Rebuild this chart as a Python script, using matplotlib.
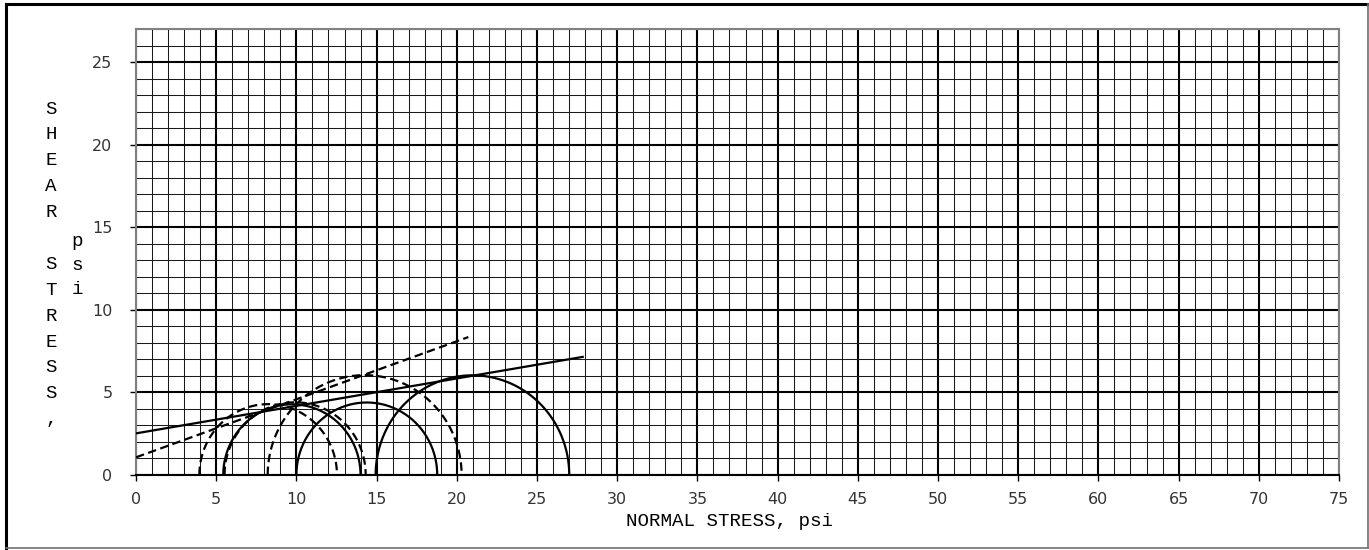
#!/usr/bin/env python3
"""Mohr circles and failure envelopes on a grid sheet (total vs effective stress)."""

import matplotlib

matplotlib.use("Agg")
import matplotlib.pyplot as plt
import numpy as np
from matplotlib.lines import Line2D


OUT = "out.png"

# Principal stresses at failure, psi
SIGMA3_TOTAL = [5.44, 10.0, 14.94]
SIGMA1_TOTAL = [14.0, 18.78, 27.01]
SIGMA3_EFFECTIVE = [3.95, 5.52, 8.21]
SIGMA1_EFFECTIVE = [12.53, 14.32, 20.3]

# Failure envelopes, end points (normal stress, shear stress)
ENVELOPE_TOTAL_X = [0.0, 27.85]
ENVELOPE_TOTAL_Y = [2.52, 7.15]
ENVELOPE_EFFECTIVE_X = [0.0, 20.72]
ENVELOPE_EFFECTIVE_Y = [1.07, 8.35]

X_TICKS = list(range(0, 80, 5))
Y_TICKS = list(range(0, 30, 5))
X_MAX = 75
Y_MAX = 27

Y_LABEL = "SHEAR STRESS,"
Y_UNIT = "psi"
X_LABEL = "NORMAL STRESS, psi"

MONO = "Liberation Mono"
DASH = (0, (3.8, 2.0))


def semicircle(s3: float, s1: float) -> tuple[np.ndarray, np.ndarray]:
    center = (s1 + s3) / 2
    radius = (s1 - s3) / 2
    theta = np.linspace(np.pi, 0, 200)
    return center + radius * np.cos(theta), radius * np.sin(theta)


def draw_grid(ax) -> None:
    for x in range(0, X_MAX + 1):
        major = x % 5 == 0
        ax.axvline(x, color="black" if major else "#1a1a1a",
                   linewidth=1.5 if major else 0.75, zorder=1)
    for y in range(0, Y_MAX + 1):
        major = y % 5 == 0
        ax.axhline(y, color="black" if major else "#1a1a1a",
                   linewidth=1.5 if major else 0.75, zorder=1)


def main() -> int:
    fig = plt.figure(figsize=(13.69, 5.5), dpi=100)
    ax = fig.add_axes([136 / 1369, 1 - 475 / 550, 1203 / 1369, 446 / 550])

    draw_grid(ax)

    for s3, s1 in zip(SIGMA3_TOTAL, SIGMA1_TOTAL):
        x, y = semicircle(s3, s1)
        ax.plot(x, y, color="black", linewidth=1.6, zorder=3)
    for s3, s1 in zip(SIGMA3_EFFECTIVE, SIGMA1_EFFECTIVE):
        x, y = semicircle(s3, s1)
        ax.plot(x, y, color="black", linewidth=1.6, linestyle=DASH, zorder=3)

    ax.plot(ENVELOPE_TOTAL_X, ENVELOPE_TOTAL_Y, color="black", linewidth=1.6, zorder=3)
    ax.plot(ENVELOPE_EFFECTIVE_X, ENVELOPE_EFFECTIVE_Y, color="black",
            linewidth=1.6, linestyle=DASH, zorder=3)

    ax.set_xlim(0, X_MAX)
    ax.set_ylim(0, Y_MAX)
    ax.set_xticks(X_TICKS)
    ax.set_yticks(Y_TICKS)
    ax.tick_params(axis="both", direction="out", length=4, width=1.0,
                   color="black", labelsize=11.5, labelcolor="#333333")
    ax.tick_params(axis="x", pad=8)
    ax.tick_params(axis="y", pad=13)

    for side in ("top", "right", "left"):
        ax.spines[side].set_color("#808080")
        ax.spines[side].set_linewidth(1.5)
    ax.spines["bottom"].set_color("black")
    ax.spines["bottom"].set_linewidth(1.5)

    ax.set_xlabel(X_LABEL, fontfamily=MONO, fontsize=13.8, color="black")
    ax.xaxis.set_label_coords((729.5 - 136) / 1203, -(522 - 475) / 446)
    ax.xaxis.label.set_va("center")

    # vertical, letter-stacked axis label
    top_px, step_px = 109, 25.9
    for i, ch in enumerate(Y_LABEL.replace(" ", " ")):
        fig.text(51 / 1369, 1 - (top_px + i * step_px) / 550, ch, fontfamily=MONO,
                 fontsize=13.8, ha="center", va="center")
    for i, ch in enumerate(Y_UNIT):
        fig.text(77 / 1369, 1 - (241 + i * 24.5) / 550, ch, fontfamily=MONO,
                 fontsize=13.8, ha="center", va="center")

    # sheet border
    fig.add_artist(Line2D([6 / 1369, 6 / 1369], [1 - 548 / 550, 1 - 3.5 / 550],
                          color="black", linewidth=2.2, transform=fig.transFigure))
    fig.add_artist(Line2D([6 / 1369, 1367.5 / 1369], [1 - 3.5 / 550, 1 - 3.5 / 550],
                          color="black", linewidth=2.2, transform=fig.transFigure))
    fig.add_artist(Line2D([1367.5 / 1369, 1367.5 / 1369], [1 - 548 / 550, 1 - 3.5 / 550],
                          color="#707070", linewidth=1.2, transform=fig.transFigure))
    fig.add_artist(Line2D([6 / 1369, 1367.5 / 1369], [1 - 548 / 550, 1 - 548 / 550],
                          color="#707070", linewidth=1.2, transform=fig.transFigure))

    fig.savefig(OUT, dpi=100)
    plt.close(fig)
    return 0


if __name__ == "__main__":
    raise SystemExit(main())
